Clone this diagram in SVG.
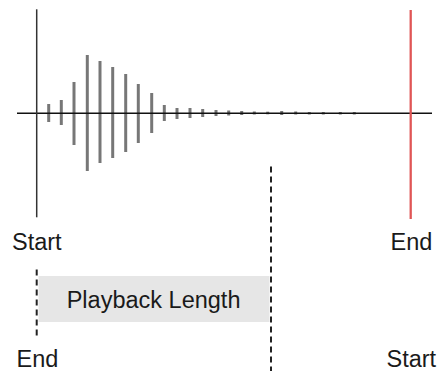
<svg xmlns="http://www.w3.org/2000/svg" width="437" height="371" viewBox="0 0 437 371">
<style>
.t{font-family:"Liberation Sans",Arial,sans-serif;font-size:23.5px;fill:#1a1a1a}
.bar{stroke:#777;stroke-width:3;fill:none}
.dash{stroke:#222;stroke-width:2;stroke-dasharray:6 4;fill:none}
</style>
<rect width="437" height="371" fill="#fff"/>
<g id="bars">
<line class="bar" x1="48.7" y1="104" x2="48.7" y2="122"/>
<line class="bar" x1="61.3" y1="100" x2="61.3" y2="125"/>
<line class="bar" x1="74" y1="82" x2="74" y2="145"/>
<line class="bar" x1="87.3" y1="55" x2="87.3" y2="171"/>
<line class="bar" x1="100" y1="61" x2="100" y2="163"/>
<line class="bar" x1="112.7" y1="67" x2="112.7" y2="158"/>
<line class="bar" x1="125.7" y1="74" x2="125.7" y2="152"/>
<line class="bar" x1="138.3" y1="84" x2="138.3" y2="143"/>
<line class="bar" x1="151.7" y1="93" x2="151.7" y2="133"/>
<line class="bar" x1="164.3" y1="105" x2="164.3" y2="121"/>
<line class="bar" x1="177" y1="108" x2="177" y2="119"/>
<line class="bar" x1="190" y1="108" x2="190" y2="118"/>
<line class="bar" x1="202.7" y1="109" x2="202.7" y2="117"/>
<line class="bar" x1="216" y1="110" x2="216" y2="116"/>
<line class="bar" x1="228.7" y1="110.5" x2="228.7" y2="115.5"/>
<line class="bar" x1="241.7" y1="111" x2="241.7" y2="115"/>
<line class="bar" x1="254.3" y1="111.5" x2="254.3" y2="114.5"/>
<line class="bar" x1="267.7" y1="111.7" x2="267.7" y2="114.3"/>
<line class="bar" x1="281.7" y1="111" x2="281.7" y2="115"/>
<line class="bar" x1="295.7" y1="111.5" x2="295.7" y2="114.5"/>
<line class="bar" x1="309.3" y1="112" x2="309.3" y2="114.5"/>
<line class="bar" x1="323.3" y1="112" x2="323.3" y2="114.5"/>
<line class="bar" x1="340.3" y1="112" x2="340.3" y2="114.5"/>
<line class="bar" x1="354.3" y1="112" x2="354.3" y2="114.5"/>
</g>
<g id="axes">
<line x1="17" y1="113.3" x2="432" y2="113.3" stroke="#111" stroke-width="1.5"/>
<line x1="36.7" y1="9.3" x2="36.7" y2="217.3" stroke="#333" stroke-width="1.5"/>
<line x1="410.7" y1="10" x2="410.7" y2="219" stroke="#e05555" stroke-width="2.3"/>
</g>
<g id="playback">
<rect x="38.5" y="276" width="231" height="46" fill="#e6e6e6"/>
<text class="t" x="66.7" y="308.3">Playback Length</text>
</g>
<g id="connectors">
<line class="dash" x1="36.7" y1="269.5" x2="36.7" y2="336"/>
<line class="dash" x1="271" y1="166.5" x2="271" y2="371"/>
</g>
<g id="labels">
<text class="t" x="12" y="249.5">Start</text>
<text class="t" x="390.5" y="249.5">End</text>
<text class="t" x="16.5" y="366.5">End</text>
<text class="t" x="386.5" y="366.5">Start</text>
</g>
</svg>
